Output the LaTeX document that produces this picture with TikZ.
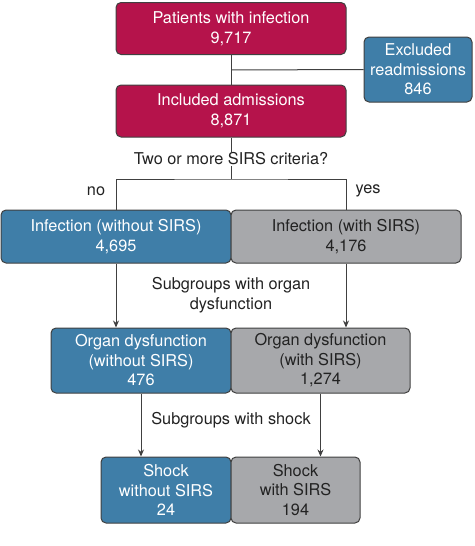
\documentclass[tikz,border=0pt]{standalone}
\usepackage{fontspec}
\setmainfont{TeX Gyre Heros}
\usetikzlibrary{arrows.meta}
\definecolor{cred}{HTML}{B5134B}
\definecolor{cblue}{HTML}{3F7EA8}
\definecolor{cgray}{HTML}{A7A8AB}
\definecolor{cline}{HTML}{404040}
\definecolor{ctext}{HTML}{222222}
\begin{document}
\begin{tikzpicture}[x=1pt,y=1pt,
  box/.style={draw=cline, line width=1pt, rounded corners=5pt, align=center,
    inner sep=0pt, font=\fontsize{16.3}{19.5}\selectfont},
  redbox/.style={box, fill=cred, text=white},
  bluebox/.style={box, fill=cblue, text=white},
  graybox/.style={box, fill=cgray, text=ctext},
  lbl/.style={align=center, text=ctext, inner sep=1pt, font=\fontsize{16.3}{19.5}\selectfont},
  conn/.style={draw=cline, line width=1pt},
  arr/.style={conn, -{Stealth[length=7pt,width=6pt]}}]
\useasboundingbox (0,0) rectangle (474,-546);
\node[redbox, minimum width=230pt, minimum height=52pt] (p) at (231,-28.5) {Patients with infection\\9,717};
\node[bluebox, minimum width=108pt, minimum height=65pt] (ex) at (418,-69.5) {Excluded\\readmissions\\846};
\node[redbox, minimum width=230pt, minimum height=52pt] (inc) at (231,-111) {Included admissions\\8,871};
\node[lbl] (q) at (231,-159) {Two or more SIRS criteria?};
\node[lbl] (no) at (96,-191) {no};
\node[lbl] (yes) at (368,-191) {yes};
\node[bluebox, minimum width=230pt, minimum height=53pt] (ib) at (116,-236.5) {Infection (without SIRS)\\4,695};
\node[graybox, minimum width=230pt, minimum height=53pt] (ig) at (346,-236.5) {Infection (with SIRS)\\4,176};
\node[lbl] (sg1) at (231,-295) {Subgroups with organ\\dysfunction};
\node[bluebox, minimum width=180pt, minimum height=65pt] (ob) at (141,-360.5) {Organ dysfunction\\(without SIRS)\\476};
\node[graybox, minimum width=179pt, minimum height=65pt] (og) at (320.5,-360.5) {Organ dysfunction\\(with SIRS)\\1,274};
\node[lbl] (sg2) at (231,-420) {Subgroups with shock};
\node[bluebox, minimum width=130pt, minimum height=66pt] (sb) at (166,-490) {Shock\\without SIRS\\24};
\node[graybox, minimum width=129pt, minimum height=66pt] (sgr) at (295.5,-490) {Shock\\with SIRS\\194};
\coordinate (j1) at (231,-70);
\coordinate (j2) at (231,-179);
\draw[conn] (p.south) -- (inc.north);
\draw[conn] (j1) -- (ex.west);
\draw[conn] (inc.south) -- (q.north);
\draw[conn] (q.south) -- (j2);
\draw[conn] (ib.north) |- (j2) -| (ig.north);
\draw[arr] (ib.south) -- (ib.south |- ob.north);
\draw[arr] (ig.south) -- (ig.south |- og.north);
\draw[arr] (ob.south) -- (ob.south |- sb.north);
\draw[arr] (og.south) -- (og.south |- sgr.north);
\end{tikzpicture}
\end{document}
